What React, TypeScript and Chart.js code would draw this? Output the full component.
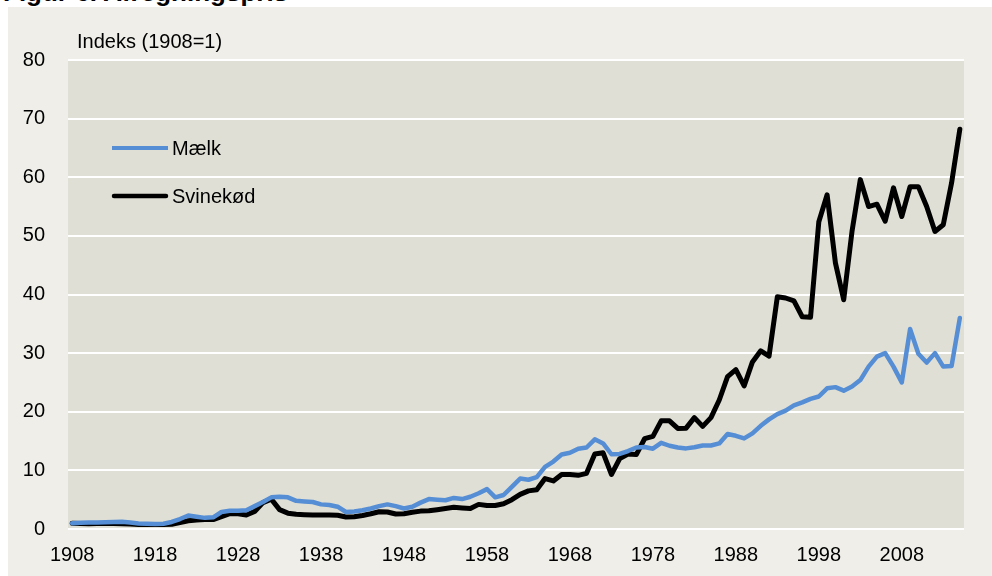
import React, { useEffect, useRef } from "react";
import { Chart, registerables } from "chart.js";

Chart.register(...registerables);

const firstYear = 1908;
const tickYears = [1908, 1918, 1928, 1938, 1948, 1958, 1968, 1978, 1988, 1998, 2008];

const maelk = [
  1.0, 1.05, 1.1, 1.1, 1.15, 1.2, 1.25, 1.1, 0.95, 0.9,
  0.85, 0.9, 1.2, 1.7, 2.3, 2.1, 1.9, 2.0, 2.9, 3.1,
  3.1, 3.2, 3.9, 4.6, 5.4, 5.5, 5.4, 4.8, 4.7, 4.6,
  4.2, 4.1, 3.8, 2.9, 3.0, 3.2, 3.5, 3.9, 4.2, 3.9,
  3.5, 3.8, 4.5, 5.1, 5.0, 4.9, 5.3, 5.1, 5.5, 6.1,
  6.8, 5.4, 5.8, 7.2, 8.6, 8.4, 8.85, 10.6, 11.5, 12.7,
  13.0, 13.7, 13.9, 15.3, 14.6, 12.75, 12.8, 13.3, 13.9, 14.0,
  13.7, 14.7, 14.2, 13.9, 13.75, 13.95, 14.25, 14.25, 14.6, 16.2,
  15.9, 15.45, 16.3, 17.6, 18.7, 19.6, 20.2, 21.1, 21.6, 22.2,
  22.6, 24.0, 24.2, 23.6, 24.3, 25.4, 27.7, 29.4, 30.0, 27.7,
  25.0, 34.1, 29.9, 28.4, 30.0, 27.7, 27.8, 36.0,
];

const svinekoed = [
  1.0, 0.95, 0.9, 0.95, 0.95, 0.95, 0.9, 0.85, 0.75, 0.75,
  0.75, 0.75, 0.8, 1.1, 1.4, 1.55, 1.6, 1.6, 2.1, 2.6,
  2.6, 2.4, 3.0, 4.5, 5.1, 3.3, 2.7, 2.5, 2.45, 2.4,
  2.4, 2.4, 2.35, 2.05, 2.1, 2.3, 2.6, 2.95, 2.9, 2.55,
  2.6, 2.85, 3.05, 3.1, 3.3, 3.5, 3.7, 3.6, 3.5, 4.2,
  4.0, 4.0, 4.3, 5.0, 5.9, 6.5, 6.7, 8.6, 8.2, 9.3,
  9.3, 9.15, 9.5, 12.8, 13.0, 9.3, 12.0, 12.8, 12.7, 15.4,
  15.8, 18.45, 18.45, 17.15, 17.2, 19.0, 17.5, 19.0, 22.0, 26.0,
  27.2, 24.4, 28.5, 30.4, 29.5, 39.6, 39.4, 38.9, 36.2, 36.1,
  52.4, 57.0, 45.4, 39.1, 50.75, 59.6, 55.0, 55.4, 52.5, 58.2,
  53.3, 58.4, 58.4, 55.0, 50.75, 51.9, 59.0, 68.2,
];

const years = maelk.map((_, i) => firstYear + i);

const seriesNames = ["Mælk", "Svinekød"];
const seriesColors = ["#558ED5", "#000000"];
const axisTitle = "Indeks (1908=1)";
const titleText = "Figur 6. Afregningspris";

const FONT = "Arial, 'Liberation Sans', sans-serif";

const decorPlugin = {
  id: "decor",
  beforeDraw(chart: any) {
    const { ctx, chartArea } = chart;
    ctx.save();
    ctx.fillStyle = "#E0DFD5";
    ctx.fillRect(chartArea.left, chartArea.top, chartArea.right - chartArea.left, chartArea.bottom - chartArea.top);
    ctx.restore();
  },
  afterDraw(chart: any) {
    const { ctx } = chart;
    ctx.save();
    ctx.fillStyle = "#000";
    ctx.font = `20px ${FONT}`;
    ctx.textBaseline = "alphabetic";
    ctx.textAlign = "left";
    ctx.fillText(axisTitle, 77, 48);
    const rows = [148, 196];
    const widths = [4, 4.5];
    rows.forEach((y, i) => {
      ctx.beginPath();
      ctx.strokeStyle = seriesColors[i];
      ctx.lineWidth = widths[i];
      ctx.lineCap = i === 0 ? "butt" : "round";
      ctx.moveTo(i === 0 ? 112 : 114, y);
      ctx.lineTo(i === 0 ? 168 : 166, y);
      ctx.stroke();
      ctx.fillStyle = "#000";
      ctx.textBaseline = "middle";
      ctx.fillText(seriesNames[i], 172, y + 1);
    });
    ctx.restore();
  },
};

export default function App() {
  const ref = useRef<HTMLCanvasElement | null>(null);

  useEffect(() => {
    if (!ref.current) return;
    const chart = new Chart(ref.current, {
      type: "line",
      data: {
        labels: years.map(String),
        datasets: [
          {
            label: seriesNames[0],
            data: maelk,
            borderColor: seriesColors[0],
            backgroundColor: seriesColors[0],
            borderWidth: 4.5,
            pointRadius: 0,
            tension: 0,
            borderJoinStyle: "round",
            borderCapStyle: "round",
          },
          {
            label: seriesNames[1],
            data: svinekoed,
            borderColor: seriesColors[1],
            backgroundColor: seriesColors[1],
            borderWidth: 5,
            pointRadius: 0,
            tension: 0,
            borderJoinStyle: "round",
            borderCapStyle: "round",
          },
        ],
      },
      options: {
        animation: false,
        responsive: false,
        maintainAspectRatio: false,
        layout: { padding: { top: 60, right: 28, left: 0, bottom: 0 } },
        plugins: {
          legend: { display: false },
          tooltip: { enabled: false },
          title: { display: false },
        },
        scales: {
          x: {
            type: "category",
            offset: true,
            grid: { display: false, drawTicks: false },
            border: { display: false },
            ticks: {
              autoSkip: false,
              maxRotation: 0,
              minRotation: 0,
              padding: 14,
              color: "#000",
              font: { family: FONT, size: 20 },
              callback: (_v: any, i: number) =>
                tickYears.includes(years[i]) ? String(years[i]) : "",
            },
            afterFit: (s: any) => {
              s.height = 47;
            },
          },
          y: {
            min: 0,
            max: 80,
            grid: { color: "#FFFFFF", lineWidth: 2, drawTicks: false },
            border: { display: false },
            ticks: {
              stepSize: 10,
              padding: 23,
              color: "#000",
              font: { family: FONT, size: 20 },
            },
            afterFit: (s: any) => {
              s.width = 68;
            },
          },
        },
      },
      plugins: [decorPlugin],
    } as any);
    return () => chart.destroy();
  }, []);

  return (
    <div style={{ position: "absolute", left: 0, top: 0, width: 992, height: 576, background: "#FFFFFF", overflow: "hidden" }}>
      <div
        style={{
          position: "absolute",
          left: 3,
          top: -23,
          fontFamily: FONT,
          fontWeight: "bold",
          fontSize: 26,
          lineHeight: "30px",
          color: "#000",
          whiteSpace: "nowrap",
        }}
      >
        {titleText}
      </div>
      <div style={{ position: "absolute", left: 8, top: 7, width: 984, height: 569, background: "#EFEEE8" }} />
      <canvas
        ref={ref}
        width={992}
        height={576}
        style={{ position: "absolute", left: 0, top: 0, width: 992, height: 576 }}
      />
    </div>
  );
}
